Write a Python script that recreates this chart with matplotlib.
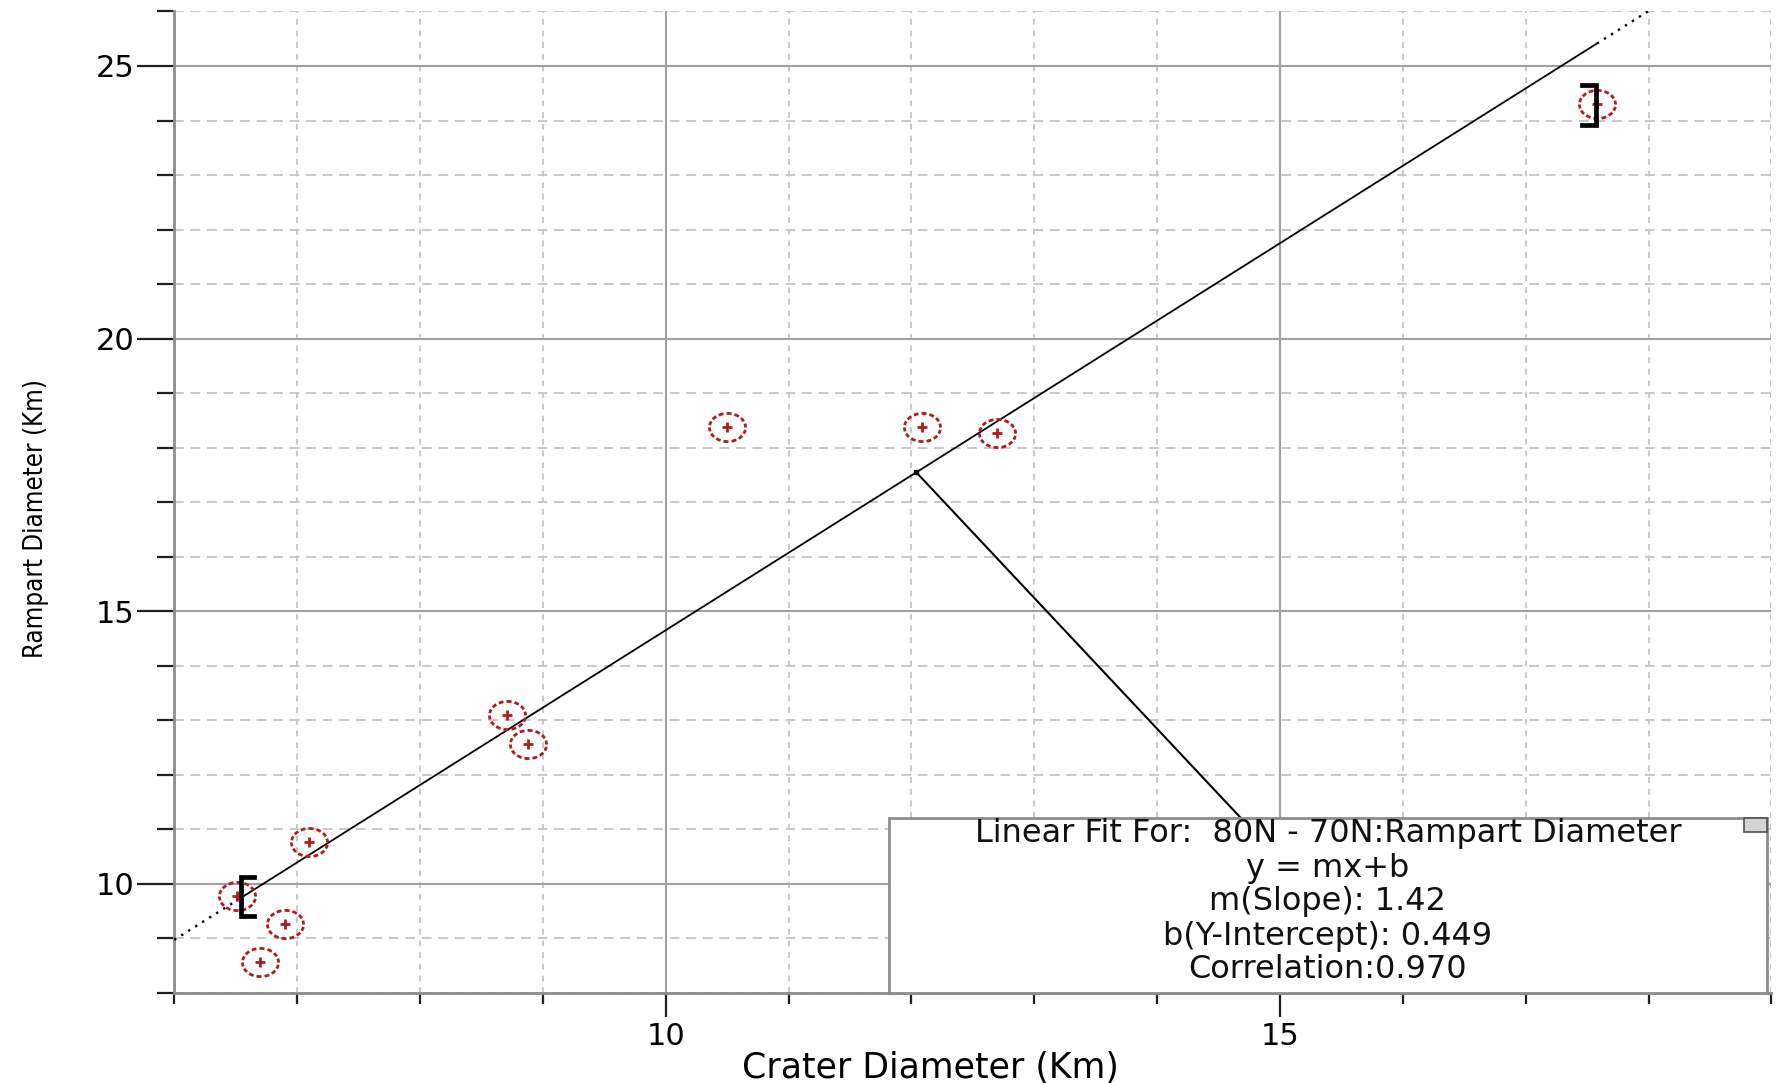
import numpy as np
import matplotlib
matplotlib.use("Agg")
import matplotlib.pyplot as plt
from matplotlib.path import Path
from matplotlib.patches import Rectangle
from matplotlib.ticker import MultipleLocator

# crater measurements, 80N - 70N
crater_diam = [6.51, 6.70, 6.90, 7.10, 8.71, 8.88, 10.50, 12.09, 12.70, 17.58]
rampart_diam = [9.77, 8.56, 9.26, 10.77, 13.10, 12.57, 18.37, 18.37, 18.26, 24.30]

# linear fit reported by the software
slope = 1.42
intercept = 0.449
fit_text = ["Linear Fit For:  80N - 70N:Rampart Diameter",
            "y = mx+b",
            "m(Slope): 1.42",
            "b(Y-Intercept): 0.449",
            "Correlation:0.970"]

# data cursor brackets (x, y low, y high, side)
bracket_x = [6.54, 17.57]
bracket_lo = [9.40, 23.91]
bracket_hi = [10.13, 24.65]
bracket_dir = [1, -1]

# point on the fit line the annotation points at
leader_x = 12.04

xlim = (6, 19)
ylim = (8, 26)

plt.rcParams['font.family'] = ['DejaVu Sans']

fig = plt.figure(figsize=(17.85, 10.83), dpi=100)
ax = fig.add_axes([0.0976, 0.0834, 0.8948, 0.906])

# dashed ellipse marker, like the original circles
verts, codes = [], []
ndash = 14
for k in range(ndash):
    t = np.linspace(0, 2 * np.pi / ndash * 0.62, 5) + 2 * np.pi * k / ndash
    pts = np.column_stack([np.cos(t), 0.78 * np.sin(t)])
    verts.extend(pts)
    codes.extend([Path.MOVETO] + [Path.LINETO] * (len(t) - 1))
dashed_circle = Path(np.array(verts), codes)

red = '#b01c1c'
ax.plot(crater_diam, rampart_diam, linestyle='none', marker=dashed_circle,
        markersize=26, markeredgewidth=2.0, markerfacecolor='none',
        markeredgecolor=red, zorder=4)
ax.plot(crater_diam, rampart_diam, linestyle='none', marker='+',
        markersize=7, markeredgewidth=2.0, color=red, zorder=4)

# fit line: solid over the data, dotted out to the edges
xs = np.array([min(crater_diam), max(crater_diam)])
ax.plot(xs, slope * xs + intercept, color='black', lw=1.3, zorder=3)
xl = np.array([xlim[0], min(crater_diam)])
ax.plot(xl, slope * xl + intercept, color='black', lw=1.7, ls=(0, (1, 2.5)), zorder=3)
xr = np.array([max(crater_diam), xlim[1]])
ax.plot(xr, slope * xr + intercept, color='black', lw=1.7, ls=(0, (1, 2.5)), zorder=3)

# brackets
for bx, lo, hi, d in zip(bracket_x, bracket_lo, bracket_hi, bracket_dir):
    ax.plot([bx + d * 0.11, bx, bx, bx + d * 0.11], [hi, hi, lo, lo],
            color='black', lw=3.4, solid_joinstyle='miter', zorder=5)

# annotation box
ax.add_patch(Rectangle((0.4475, 0.0), 0.5496, 0.1777, transform=ax.transAxes,
                       facecolor='white', edgecolor='#8c8c8c', lw=2, zorder=6,
                       clip_on=False))
ax.add_patch(Rectangle((0.9829, 0.1633), 0.0142, 0.0144, transform=ax.transAxes,
                       facecolor='#d4d4d4', edgecolor='#505050', lw=1.2, zorder=7,
                       clip_on=False))
rows_y = [0.1621, 0.1265, 0.0925, 0.0574, 0.0238]
for txt, ty in zip(fit_text, rows_y):
    ax.text(0.7223, ty, txt, transform=ax.transAxes, ha='center', va='center',
            fontsize=23, color='#111111', zorder=8)

ly = slope * leader_x + intercept
ax.annotate('', xy=(leader_x, ly), xytext=(0.668, 0.1777),
            textcoords='axes fraction',
            arrowprops=dict(arrowstyle='-', color='black', lw=1.5,
                            shrinkA=0, shrinkB=0), zorder=5)
ax.plot([leader_x], [ly], marker='s', ms=3, color='black', zorder=5)

# axes, ticks and grid
ax.set_xlim(*xlim)
ax.set_ylim(*ylim)
ax.xaxis.set_major_locator(MultipleLocator(5))
ax.xaxis.set_minor_locator(MultipleLocator(1))
ax.yaxis.set_major_locator(MultipleLocator(5))
ax.yaxis.set_minor_locator(MultipleLocator(1))

ax.grid(which='major', axis='both', color='#a0a0a0', lw=1.5, ls='-', zorder=0)
ax.grid(which='minor', axis='y', color='#c8c8c8', lw=1.4, ls=(0, (5, 3.5)), zorder=0)
ax.grid(which='minor', axis='x', color='#c8c8c8', lw=1.4, ls=(0, (3, 3)), zorder=0)
ax.set_axisbelow(True)

for side in ['top', 'right']:
    ax.spines[side].set_visible(False)
for side in ['left', 'bottom']:
    ax.spines[side].set_color('#8c8c8c')
    ax.spines[side].set_linewidth(2)

ax.tick_params(axis='y', which='major', length=27, width=1.6, color='#202020',
               pad=1.5, labelsize=22)
ax.tick_params(axis='y', which='minor', length=12, width=1.6, color='#202020')
ax.tick_params(axis='x', which='major', length=17, width=1.6, color='#202020',
               pad=4, labelsize=22)
ax.tick_params(axis='x', which='minor', length=8, width=1.6, color='#202020')

ax.set_xlabel("Crater Diameter (Km)", fontsize=25, va='center')
ax.xaxis.set_label_coords(0.4733, -0.0764)
ax.set_ylabel("Rampart Diameter (Km)", fontsize=18.5, va='center',
              fontstretch='condensed')
ax.yaxis.set_label_coords(-0.0865, 0.4836)

fig.savefig("out.png", dpi=100)
